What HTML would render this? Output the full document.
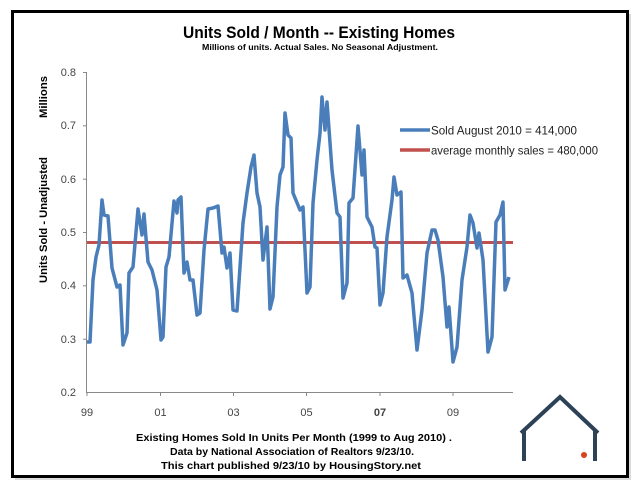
<!DOCTYPE html>
<html><head><meta charset="utf-8"><style>
html,body{margin:0;padding:0;background:#fff;}
svg{display:block;font-family:"Liberation Sans",sans-serif;}
</style></head><body>
<svg width="640" height="486" viewBox="0 0 640 486" xmlns="http://www.w3.org/2000/svg">
<rect x="0" y="0" width="640" height="486" fill="#fff"/>
<rect x="15" y="14" width="616" height="466" fill="#999" opacity="0.35"/>
<rect x="12.5" y="11.5" width="615" height="465" fill="#fff" stroke="#000" stroke-width="3"/>
<text x="319" y="38" text-anchor="middle" font-size="16.5" font-weight="bold" textLength="272" lengthAdjust="spacingAndGlyphs">Units Sold / Month -- Existing Homes</text>
<text x="320" y="50" text-anchor="middle" font-size="8.5" font-weight="bold" textLength="236" lengthAdjust="spacingAndGlyphs">Millions of units. Actual Sales. No Seasonal Adjustment.</text>
<text transform="translate(47,97) rotate(-90)" text-anchor="middle" font-size="11" font-weight="bold" textLength="42" lengthAdjust="spacingAndGlyphs">Millions</text>
<text transform="translate(47,220) rotate(-90)" text-anchor="middle" font-size="11" font-weight="bold" textLength="126" lengthAdjust="spacingAndGlyphs">Units Sold - Unadjusted</text>
<g stroke="#888" stroke-width="1">
<line x1="86.5" y1="72" x2="86.5" y2="392"/>
<line x1="86" y1="392.5" x2="513" y2="392.5"/>
<line x1="83" y1="72.5" x2="86" y2="72.5"/><line x1="83" y1="125.8" x2="86" y2="125.8"/><line x1="83" y1="179.2" x2="86" y2="179.2"/><line x1="83" y1="232.5" x2="86" y2="232.5"/><line x1="83" y1="285.8" x2="86" y2="285.8"/><line x1="83" y1="339.2" x2="86" y2="339.2"/>
<line x1="87" y1="392" x2="87" y2="396"/><line x1="160.5" y1="392" x2="160.5" y2="396"/><line x1="233.5" y1="392" x2="233.5" y2="396"/><line x1="306.5" y1="392" x2="306.5" y2="396"/><line x1="380" y1="392" x2="380" y2="396"/><line x1="453" y1="392" x2="453" y2="396"/>
</g>
<g font-size="11" fill="#444" text-anchor="end">
<text x="76" y="76">0.8</text><text x="76" y="129">0.7</text><text x="76" y="183">0.6</text><text x="76" y="236">0.5</text><text x="76" y="289">0.4</text><text x="76" y="343">0.3</text><text x="76" y="396">0.2</text>
</g>
<g font-size="11" fill="#444" text-anchor="middle">
<text x="87" y="416">99</text><text x="160.5" y="416">01</text><text x="233.5" y="416">03</text><text x="306.5" y="416">05</text><text x="380" y="416" font-weight="bold">07</text><text x="453" y="416">09</text>
</g>
<line x1="87" y1="242.5" x2="513" y2="242.5" stroke="#c0504d" stroke-width="3"/>
<polyline fill="none" stroke="#4a7ebb" stroke-width="3.5" stroke-linejoin="round" points="87,342 90,342 93,280 96,257 99,245 102,200 104,215 108,216 112,268 117,287 120,285 123,345 127,333 129,273 133,267 138,209 142,235 144,214 148,262 152,270 157,290 161,340 163,337 166,267 169,257 174,201 177,213 178,200 181,197 184,273 187,262 190,280 193,280 197,315 200,313 204,250 208,209 213,208 218,206 222,253 224,247 227,268 230,253 233,310 237,311 243,223 247,193 251,167 254,155 257,193 260,207 263,260 267,227 270,309 273,297 277,207 280,175 283,167 285,113 288,135 291,138 293,193 300,210 303,207 307,293 310,287 313,203 317,160 320,133 322,97 325,130 327,102 332,170 337,213 340,217 343,298 347,283 349,203 353,198 358,126 362,175 364,150 367,217 372,227 375,247 377,248 380,305 383,293 387,237 392,200 394,177 397,195 401,192 403,278 407,275 412,293 417,350 422,310 427,253 432,230 435,230 438,240 443,277 447,327 449,307 453,362 457,347 462,280 467,247 470,215 473,223 477,248 479,233 483,260 488,352 492,337 496,222 500,215 503,202 505,290 509,277"/>
<line x1="400" y1="130" x2="430" y2="130" stroke="#4a7ebb" stroke-width="3.5"/>
<line x1="400" y1="150" x2="430" y2="150" stroke="#c0504d" stroke-width="3.5"/>
<text x="431" y="134.5" font-size="12" fill="#222" textLength="146" lengthAdjust="spacingAndGlyphs">Sold August 2010 =  414,000</text>
<text x="431" y="154.5" font-size="12" fill="#222" textLength="167" lengthAdjust="spacingAndGlyphs">average monthly sales = 480,000</text>
<g font-size="10.5" font-weight="bold" text-anchor="middle">
<text x="294" y="441" textLength="316" lengthAdjust="spacingAndGlyphs">Existing Homes Sold In Units Per Month (1999 to Aug 2010) .</text>
<text x="292" y="455" textLength="244" lengthAdjust="spacingAndGlyphs">Data by National Association of Realtors 9/23/10.</text>
<text x="291" y="469" textLength="260" lengthAdjust="spacingAndGlyphs">This chart published 9/23/10 by HousingStory.net</text>
</g>
<g fill="none" stroke="#2e4257" stroke-width="4">
<polyline points="521,433 560,397 598,433" stroke-linejoin="miter"/>
<line x1="524" y1="431" x2="524" y2="461"/>
<line x1="595" y1="431" x2="595" y2="461"/>
</g>
<circle cx="584" cy="455" r="3" fill="#d9401c"/>
</svg>
</body></html>
